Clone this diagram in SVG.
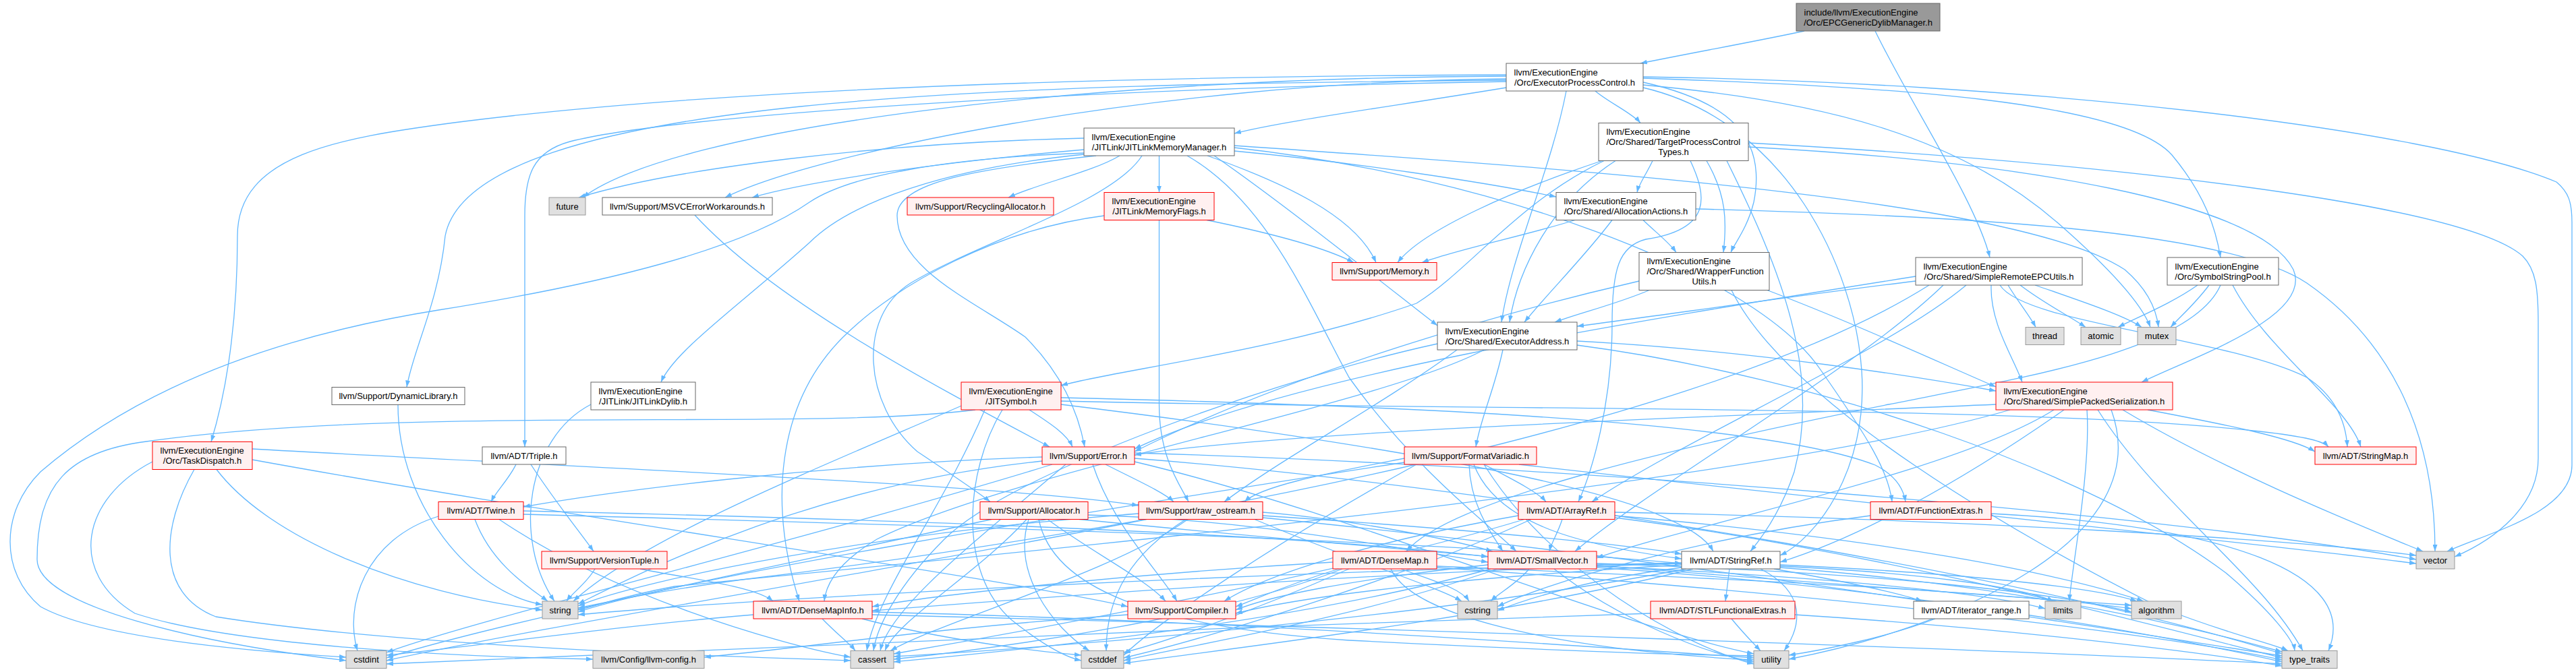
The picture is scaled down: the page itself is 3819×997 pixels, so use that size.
<svg xmlns="http://www.w3.org/2000/svg" width="3819" height="997" viewBox="0 0 3819 997">
<style>
.w{fill:#ffffff;stroke:#666666;stroke-width:1}
.r{fill:#fff0f0;stroke:#ff0000;stroke-width:1}
.g{fill:#e0e0e0;stroke:#999999;stroke-width:1}
.k{fill:#999999;stroke:#666666;stroke-width:1}
text{font-family:"Liberation Sans",Arial,Helvetica,sans-serif;font-size:13px;fill:#000000}
.c{text-anchor:middle}
#edges path{fill:none;stroke:#63b8ff;stroke-width:1.3;marker-end:url(#a)}
</style>
<defs>
<marker id="a" viewBox="0 0 10 7" refX="10" refY="3.5" markerWidth="10" markerHeight="7" markerUnits="userSpaceOnUse" orient="auto"><path d="M0,0L10,3.5L0,7z" fill="#63b8ff"/></marker>
</defs>
<rect x="0" y="0" width="3819" height="997" fill="#ffffff"/>
<g id="edges">
<path d="M2675,46 C2600,62 2500,80 2432,94"/>
<path d="M2780,46 C2830,150 2930,300 2950,382"/>
<path d="M2233,130 C2050,160 1900,180 1830,198"/>
<path d="M2365,135 C2385,152 2420,168 2432,182.5"/>
<path d="M2233,113 C1600,115 1000,190 864,293"/>
<path d="M2233,117 C1700,122 1200,230 1075,293"/>
<path d="M2233,119 C1500,125 700,140 660,350 C650,450 612,520 603,574.5"/>
<path d="M2233,111 C1500,114 1000,140 673,182 C500,205 352,230 352,350 C352,500 330,600 313,655.5"/>
<path d="M2233,121 C1600,132 1000,170 845,210 C790,225 778,260 778,320 L778,663"/>
<path d="M2322,135 C2300,250 2240,380 2226,478"/>
<path d="M2436,122 C2560,150 2620,200 2600,300 C2590,340 2572,360 2566,374.5"/>
<path d="M2436,116 C2800,128 3150,150 3220,230 C3270,290 3285,340 3292,382"/>
<path d="M2436,126 C2700,150 2900,200 3050,330 C3130,400 3175,450 3188,485.5"/>
<path d="M2436,114 C3000,122 3600,190 3790,270 C3808,285 3813,300 3813,330 L3813,690 C3813,760 3690,790 3628,818"/>
<path d="M2436,130 C2650,180 2750,400 2760,550 C2770,700 2690,800 2639,824"/>
<path d="M1607,205 C1300,212 1000,250 858,293"/>
<path d="M1607,222 C1400,240 1200,268 1115,293"/>
<path d="M1660,231 C1620,255 1540,272 1495,293"/>
<path d="M1718.5,231 L1718.5,285.5"/>
<path d="M1607,227 C1400,235 1260,260 1200,300 C1100,370 900,420 650,460 C400,500 200,580 60,700 C0,760 0,850 60,900 C150,950 400,968 513,975"/>
<path d="M1607,229 C1400,250 1260,300 1200,360 C1100,450 1000,520 980,567"/>
<path d="M1693,231 C1650,300 1450,360 1350,420 C1270,470 1280,600 1360,670 C1420,710 1450,730 1468,744.5"/>
<path d="M1625,231 C1450,250 1330,270 1330,320 C1330,400 1450,450 1520,500 C1580,560 1600,620 1608,663"/>
<path d="M1830,224 C2000,240 2200,270 2307,292"/>
<path d="M1800,231 C1900,300 2050,420 2131,483"/>
<path d="M1790,231 C1900,270 2010,320 2040,389.5"/>
<path d="M1760,231 C1880,300 1940,450 2000,560 C2100,700 2210,780 2248,818"/>
<path d="M1830,219 C2200,260 2600,400 2700,550 C2770,650 2800,700 2805,744.5"/>
<path d="M1830,216 C2400,255 3000,300 3150,400 C3185,430 3197,460 3200,485.5"/>
<path d="M2450,238.5 C2440,260 2430,272 2427,285.5"/>
<path d="M2375,238.5 C2250,280 2110,340 2072,389.5"/>
<path d="M2378,238.5 C2250,300 2180,400 2100,450 C1900,520 1650,550 1573,572"/>
<path d="M2395,238.5 C2300,300 2250,400 2238,478"/>
<path d="M2506,238.5 C2530,290 2540,340 2440,355 C2400,365 2390,400 2390,480 C2390,600 2360,700 2340,744.5"/>
<path d="M2530,238.5 C2560,290 2560,330 2555,374.5"/>
<path d="M2592,218 C3000,240 3350,300 3400,400 C3430,470 3250,530 3175,567"/>
<path d="M2560,238.5 C2640,400 2700,550 2660,700 C2640,760 2610,800 2595,818"/>
<path d="M2592,212 C3100,240 3650,300 3740,380 C3760,400 3763,430 3763,480 L3763,680 C3763,750 3700,800 3639,826"/>
<path d="M2335,326.5 C2260,350 2160,370 2108,389.5"/>
<path d="M2390,326.5 C2350,380 2290,440 2260,478"/>
<path d="M2436,326.5 C2455,345 2475,360 2485,374.5"/>
<path d="M2514,310 C2900,320 3300,340 3420,420 C3550,510 3610,650 3610,818"/>
<path d="M1789,326.5 C1880,345 1960,365 2007,389.5"/>
<path d="M1637,320 C1480,340 1330,420 1250,500 C1150,600 1140,750 1185,892"/>
<path d="M1718.5,326.5 L1718.5,600 C1718.5,680 1750,720 1762,744.5"/>
<path d="M2840,417 C2650,440 2450,470 2338,484"/>
<path d="M2977,423 C2990,445 3010,470 3018,485.5"/>
<path d="M2995,423 C3030,450 3070,470 3092,485.5"/>
<path d="M3017,423 C3080,445 3150,468 3175,485.5"/>
<path d="M2952,423 C2950,480 2985,530 2998,567"/>
<path d="M2965,423 C3000,480 3300,500 3420,560 C3465,590 3478,630 3480,663"/>
<path d="M2915,423 C2800,520 2500,650 2360,744.5"/>
<path d="M2881,423 C2750,550 2450,720 2335,818"/>
<path d="M2840,410 C2400,480 1900,560 1682,666"/>
<path d="M2860,423 C2500,650 1600,800 1100,860 C950,880 880,898 857,902"/>
<path d="M3258,423 C3220,450 3170,470 3140,485.5"/>
<path d="M3275,423 C3255,450 3232,470 3218,485.5"/>
<path d="M3310,423 C3360,520 3480,600 3500,663"/>
<path d="M3292,423 C3250,520 3000,560 2800,600 C2500,660 2150,740 2085,818"/>
<path d="M2445,430.5 C2400,450 2340,465 2305,478"/>
<path d="M2620,430.5 C2750,480 2880,540 2959,574"/>
<path d="M2430,417 C2200,470 1900,560 1682,670"/>
<path d="M2567,430.5 C2650,600 3000,800 3200,900 C3300,940 3370,955 3392,965.5"/>
<path d="M2228,519 C2215,580 2195,620 2188,663"/>
<path d="M2338,506 C2600,520 2850,560 2959,580"/>
<path d="M2200,519 C2050,600 1500,700 1300,800 C1250,830 1225,860 1222,892"/>
<path d="M2160,519 C2050,600 1900,680 1815,744.5"/>
<path d="M2131,510 C1900,560 1500,700 1400,800 C1330,870 1300,930 1295,965.5"/>
<path d="M2338,512 C2700,560 3100,700 3300,850 C3370,910 3400,950 3402,965.5"/>
<path d="M1526,608 C1560,630 1582,645 1590,663"/>
<path d="M1486,608 C1430,700 1420,850 1500,920 C1550,960 1580,975 1603,980"/>
<path d="M1446,608 C1200,640 600,600 217,655 C100,670 55,720 55,830 C55,900 300,955 513,980"/>
<path d="M1460,608 C1400,750 1300,880 1285,965.5"/>
<path d="M1430,600 C1200,700 950,800 850,892"/>
<path d="M1573,590 C2000,600 2600,620 2780,690 C2810,705 2822,725 2825,744.5"/>
<path d="M1573,595 C2200,610 3000,600 3350,640 C3420,648 3445,655 3452,663"/>
<path d="M1573,600 C1900,640 2300,700 2450,760 C2510,785 2530,800 2540,818"/>
<path d="M3184,608 C3300,630 3400,650 3432,670"/>
<path d="M3147,608 C3300,700 3500,780 3592,818"/>
<path d="M3094,608 C3100,700 3070,850 3068,892"/>
<path d="M3110,608 C3200,750 3350,850 3414,965.5"/>
<path d="M2959,600 C2500,620 1900,640 1682,675"/>
<path d="M3045,608 C2900,700 2500,780 2367,828"/>
<path d="M3060,608 C2900,720 2750,800 2639,834"/>
<path d="M2980,608 C2600,720 1500,820 1000,870 C920,885 880,900 857,905"/>
<path d="M3130,608 C3200,800 2900,930 2652,978"/>
<path d="M226,685 C120,740 100,850 200,910 C350,960 700,975 879,978"/>
<path d="M288,696.5 C240,780 230,880 320,915 C600,960 1100,975 1261,980"/>
<path d="M321,696.5 C400,800 600,880 804,905"/>
<path d="M374,666 C800,690 1500,720 1688,750"/>
<path d="M374,682 C800,760 1500,860 1672,900"/>
<path d="M765,689 C755,710 735,730 728,744.5"/>
<path d="M787,689 C820,740 860,790 880,818"/>
<path d="M1545,678 C1200,690 900,730 776,752"/>
<path d="M1639,689 C1680,710 1725,730 1740,744.5"/>
<path d="M1620,689 C1650,780 1720,850 1745,892"/>
<path d="M1545,684 C1200,720 950,850 857,896"/>
<path d="M1580,689 C1450,800 1320,900 1305,965.5"/>
<path d="M1560,689 C1200,800 700,920 573,968"/>
<path d="M1682,680 C2200,720 3000,850 3383,970"/>
<path d="M1682,685 C2000,760 2400,930 2600,970"/>
<path d="M1682,672 C2300,690 3200,760 3582,830"/>
<path d="M2200,689 C2240,710 2280,730 2292,744.5"/>
<path d="M2178,689 C2180,750 2210,790 2228,818"/>
<path d="M2185,689 C2220,780 2350,810 2493,829"/>
<path d="M2082,680 C1980,700 1870,720 1845,744.5"/>
<path d="M2252,689 C2700,740 3300,800 3582,836"/>
<path d="M2100,689 C1900,800 1720,920 1666,972"/>
<path d="M2082,686 C1600,760 1000,860 857,908"/>
<path d="M2200,689 C2300,850 2500,960 2600,985"/>
<path d="M704,770.5 C730,840 790,875 812,892"/>
<path d="M650,766 C540,800 510,900 530,965.5"/>
<path d="M776,758 C1300,770 1900,790 2206,826"/>
<path d="M776,763 C1400,780 2100,800 2493,836"/>
<path d="M740,770.5 C900,880 1150,955 1261,975"/>
<path d="M1522,770.5 C1450,850 1330,920 1312,965.5"/>
<path d="M1525,770.5 C1500,850 1560,930 1615,965.5"/>
<path d="M1553,770.5 C1620,820 1700,860 1728,892"/>
<path d="M1613,764 C1850,770 2050,810 2206,834"/>
<path d="M1470,770.5 C1200,830 750,920 573,976"/>
<path d="M1540,770.5 C1560,870 1700,930 2000,950 C2300,965 2500,972 2600,973"/>
<path d="M1600,770.5 C2200,830 2900,880 3160,898"/>
<path d="M1761,770.5 C1650,850 1400,920 1320,965.5"/>
<path d="M1758,770.5 C1680,820 1640,880 1640,965.5"/>
<path d="M1872,760 C2000,770 2150,800 2213,818"/>
<path d="M1872,765 C2100,780 2400,805 2493,822"/>
<path d="M1688,762 C1300,790 950,860 857,899"/>
<path d="M1700,770.5 C1300,850 800,930 573,980"/>
<path d="M1860,770.5 C2000,830 2130,870 2167,892"/>
<path d="M1872,768 C2500,830 3100,930 3383,973"/>
<path d="M2316,770.5 C2310,790 2300,805 2297,818"/>
<path d="M2251,765 C2050,800 1880,850 1815,892"/>
<path d="M2260,770.5 C2000,850 1500,940 1325,970"/>
<path d="M2270,770.5 C2100,850 1800,945 1666,976"/>
<path d="M2394,765 C2800,800 3050,850 3178,892"/>
<path d="M2394,768 C2800,820 3200,930 3383,976"/>
<path d="M2394,760 C2900,770 3400,800 3582,824"/>
<path d="M2952,762 C3300,780 3500,850 3452,965.5"/>
<path d="M2773,765 C2500,800 2280,870 2220,900"/>
<path d="M882,844 C870,865 848,880 840,892"/>
<path d="M949,844 C1030,860 1120,870 1146,892"/>
<path d="M2077,844 C2120,860 2165,872 2178,892"/>
<path d="M2062,844 C2100,930 2400,970 2600,979"/>
<path d="M1976,834 C1700,850 1400,880 1293,900"/>
<path d="M1985,844 C1900,870 1860,890 1832,900"/>
<path d="M1990,844 C1800,920 1450,965 1325,978"/>
<path d="M2000,844 C1850,910 1720,955 1666,968"/>
<path d="M2130,840 C2600,860 3000,880 3160,903"/>
<path d="M2130,842 C2700,880 3200,940 3383,979"/>
<path d="M2267,844 C2250,865 2222,880 2210,892"/>
<path d="M2304,844 C2400,920 2530,970 2600,982"/>
<path d="M2206,838 C2000,860 1880,885 1832,905"/>
<path d="M2210,844 C1900,930 1450,970 1325,982"/>
<path d="M2220,844 C2000,920 1750,960 1666,980"/>
<path d="M2367,836 C2800,850 3050,880 3160,908"/>
<path d="M2367,840 C2700,855 2950,880 3032,903"/>
<path d="M2367,842 C2800,870 3200,940 3383,982"/>
<path d="M2564,844 L2558,892"/>
<path d="M2610,844 C2680,880 2670,930 2645,965.5"/>
<path d="M2630,844 C2720,860 2810,878 2850,892"/>
<path d="M2493,836 C2000,850 1500,890 1293,906"/>
<path d="M2493,838 C2200,855 1950,880 1832,910"/>
<path d="M2500,844 C2100,920 1500,965 1325,974"/>
<path d="M2510,844 C2200,920 1800,965 1666,984"/>
<path d="M2493,842 C2350,860 2260,890 2220,906"/>
<path d="M2639,840 C2850,850 2990,870 3045,892"/>
<path d="M2639,838 C2900,850 3100,870 3168,892"/>
<path d="M2493,835 C1800,850 1100,890 857,912"/>
<path d="M2639,842 C3000,870 3250,930 3383,967"/>
<path d="M1219,918 C1240,940 1260,955 1268,965.5"/>
<path d="M1278,918 C1400,950 1550,968 1603,972"/>
<path d="M1117,912 C900,930 700,960 573,972"/>
<path d="M1293,908 C1800,920 2300,955 2600,976"/>
<path d="M1293,912 C2000,930 3000,965 3383,985"/>
<path d="M1672,912 C1400,930 1200,960 1044,975"/>
<path d="M2567,918 C2585,940 2600,955 2610,965.5"/>
<path d="M2661,912 C2950,930 3250,965 3383,988"/>
<path d="M2447,910 C1800,930 1000,965 573,985"/>
<path d="M2869,918 C2800,945 2700,965 2652,972"/>
<path d="M876,600 C780,650 760,800 822,892"/>
<path d="M590,600.5 C590,750 700,880 804,897"/>
<path d="M1030,319 C1150,450 1400,580 1556,663"/>
</g>
<g id="n-root"><rect class="k" x="2663" y="5" width="213" height="41"/><text x="2674.5" y="22.5">include/llvm/ExecutionEngine</text><text class="c" x="2769.5" y="37.5">/Orc/EPCGenericDylibManager.h</text></g>
<g id="n-epc"><rect class="w" x="2233" y="94" width="203" height="41"/><text x="2244.5" y="111.5">llvm/ExecutionEngine</text><text class="c" x="2334.5" y="126.5">/Orc/ExecutorProcessControl.h</text></g>
<g id="n-jmm"><rect class="w" x="1607" y="190" width="223" height="41"/><text x="1618.5" y="207.5">llvm/ExecutionEngine</text><text class="c" x="1718.5" y="222.5">/JITLink/JITLinkMemoryManager.h</text></g>
<g id="n-tpc"><rect class="w" x="2370" y="182.5" width="222" height="56"/><text x="2381.5" y="200">llvm/ExecutionEngine</text><text x="2381.5" y="215">/Orc/Shared/TargetProcessControl</text><text class="c" x="2481" y="230">Types.h</text></g>
<g id="n-future"><rect class="g" x="814" y="293" width="54" height="26"/><text class="c" x="841" y="310.5">future</text></g>
<g id="n-msvc"><rect class="w" x="893" y="293" width="252" height="26"/><text class="c" x="1019" y="310.5">llvm/Support/MSVCErrorWorkarounds.h</text></g>
<g id="n-recyc"><rect class="r" x="1345" y="293" width="217" height="26"/><text class="c" x="1453.5" y="310.5">llvm/Support/RecyclingAllocator.h</text></g>
<g id="n-mflags"><rect class="r" x="1637" y="285.5" width="163" height="41"/><text x="1648.5" y="303">llvm/ExecutionEngine</text><text class="c" x="1718.5" y="318">/JITLink/MemoryFlags.h</text></g>
<g id="n-alloca"><rect class="w" x="2307" y="285.5" width="207" height="41"/><text x="2318.5" y="303">llvm/ExecutionEngine</text><text class="c" x="2410.5" y="318">/Orc/Shared/AllocationActions.h</text></g>
<g id="n-memory"><rect class="r" x="1975" y="389.5" width="155" height="26"/><text class="c" x="2052.5" y="407">llvm/Support/Memory.h</text></g>
<g id="n-wfu"><rect class="w" x="2430" y="374.5" width="193" height="56"/><text x="2441.5" y="392">llvm/ExecutionEngine</text><text x="2441.5" y="407">/Orc/Shared/WrapperFunction</text><text class="c" x="2526.5" y="422">Utils.h</text></g>
<g id="n-sreu"><rect class="w" x="2840" y="382" width="247" height="41"/><text x="2851.5" y="399.5">llvm/ExecutionEngine</text><text class="c" x="2963.5" y="414.5">/Orc/Shared/SimpleRemoteEPCUtils.h</text></g>
<g id="n-ssp"><rect class="w" x="3213" y="382" width="165" height="41"/><text x="3224.5" y="399.5">llvm/ExecutionEngine</text><text class="c" x="3295.5" y="414.5">/Orc/SymbolStringPool.h</text></g>
<g id="n-thread"><rect class="g" x="3003" y="485.5" width="57" height="26"/><text class="c" x="3031.5" y="503">thread</text></g>
<g id="n-atomic"><rect class="g" x="3085" y="485.5" width="59" height="26"/><text class="c" x="3114.5" y="503">atomic</text></g>
<g id="n-mutex"><rect class="g" x="3169" y="485.5" width="57" height="26"/><text class="c" x="3197.5" y="503">mutex</text></g>
<g id="n-eaddr"><rect class="w" x="2131" y="478" width="207" height="41"/><text x="2142.5" y="495.5">llvm/ExecutionEngine</text><text class="c" x="2234.5" y="510.5">/Orc/Shared/ExecutorAddress.h</text></g>
<g id="n-dynlib"><rect class="w" x="492" y="574.5" width="197" height="26"/><text class="c" x="590.5" y="592">llvm/Support/DynamicLibrary.h</text></g>
<g id="n-jldylib"><rect class="w" x="876" y="567" width="155" height="41"/><text x="887.5" y="584.5">llvm/ExecutionEngine</text><text class="c" x="953.5" y="599.5">/JITLink/JITLinkDylib.h</text></g>
<g id="n-jitsym"><rect class="r" x="1425" y="567" width="148" height="41"/><text x="1436.5" y="584.5">llvm/ExecutionEngine</text><text class="c" x="1499" y="599.5">/JITSymbol.h</text></g>
<g id="n-sps"><rect class="r" x="2959" y="567" width="262" height="41"/><text x="2970.5" y="584.5">llvm/ExecutionEngine</text><text class="c" x="3090" y="599.5">/Orc/Shared/SimplePackedSerialization.h</text></g>
<g id="n-taskd"><rect class="r" x="226" y="655.5" width="148" height="41"/><text x="237.5" y="673">llvm/ExecutionEngine</text><text class="c" x="300" y="688">/Orc/TaskDispatch.h</text></g>
<g id="n-triple"><rect class="w" x="715" y="663" width="124" height="26"/><text class="c" x="777" y="680.5">llvm/ADT/Triple.h</text></g>
<g id="n-error"><rect class="r" x="1545" y="663" width="137" height="26"/><text class="c" x="1613.5" y="680.5">llvm/Support/Error.h</text></g>
<g id="n-fmtv"><rect class="r" x="2082" y="663" width="196" height="26"/><text class="c" x="2180" y="680.5">llvm/Support/FormatVariadic.h</text></g>
<g id="n-strmap"><rect class="r" x="3432" y="663" width="150" height="26"/><text class="c" x="3507" y="680.5">llvm/ADT/StringMap.h</text></g>
<g id="n-twine"><rect class="r" x="650" y="744.5" width="126" height="26"/><text class="c" x="713" y="762">llvm/ADT/Twine.h</text></g>
<g id="n-allocator"><rect class="r" x="1453" y="744.5" width="160" height="26"/><text class="c" x="1533" y="762">llvm/Support/Allocator.h</text></g>
<g id="n-rawos"><rect class="r" x="1688" y="744.5" width="184" height="26"/><text class="c" x="1780" y="762">llvm/Support/raw_ostream.h</text></g>
<g id="n-arrayref"><rect class="r" x="2251" y="744.5" width="143" height="26"/><text class="c" x="2322.5" y="762">llvm/ADT/ArrayRef.h</text></g>
<g id="n-funcext"><rect class="r" x="2773" y="744.5" width="179" height="26"/><text class="c" x="2862.5" y="762">llvm/ADT/FunctionExtras.h</text></g>
<g id="n-vtuple"><rect class="r" x="803" y="818" width="186" height="26"/><text class="c" x="896" y="835.5">llvm/Support/VersionTuple.h</text></g>
<g id="n-densemap"><rect class="r" x="1976" y="818" width="154" height="26"/><text class="c" x="2053" y="835.5">llvm/ADT/DenseMap.h</text></g>
<g id="n-smallvec"><rect class="r" x="2206" y="818" width="161" height="26"/><text class="c" x="2286.5" y="835.5">llvm/ADT/SmallVector.h</text></g>
<g id="n-strref"><rect class="w" x="2493" y="818" width="146" height="26"/><text class="c" x="2566" y="835.5">llvm/ADT/StringRef.h</text></g>
<g id="n-vector"><rect class="g" x="3582" y="818" width="57" height="26"/><text class="c" x="3610.5" y="835.5">vector</text></g>
<g id="n-string"><rect class="g" x="804" y="892" width="53" height="26"/><text class="c" x="830.5" y="909.5">string</text></g>
<g id="n-dmi"><rect class="r" x="1117" y="892" width="176" height="26"/><text class="c" x="1205" y="909.5">llvm/ADT/DenseMapInfo.h</text></g>
<g id="n-compiler"><rect class="r" x="1672" y="892" width="160" height="26"/><text class="c" x="1752" y="909.5">llvm/Support/Compiler.h</text></g>
<g id="n-cstring"><rect class="g" x="2161" y="892" width="59" height="26"/><text class="c" x="2190.5" y="909.5">cstring</text></g>
<g id="n-stlfe"><rect class="r" x="2447" y="892" width="214" height="26"/><text class="c" x="2554" y="909.5">llvm/ADT/STLFunctionalExtras.h</text></g>
<g id="n-iterrange"><rect class="w" x="2837" y="892" width="171" height="26"/><text class="c" x="2922.5" y="909.5">llvm/ADT/iterator_range.h</text></g>
<g id="n-limits"><rect class="g" x="3032" y="892" width="53" height="26"/><text class="c" x="3058.5" y="909.5">limits</text></g>
<g id="n-algorithm"><rect class="g" x="3160" y="892" width="74" height="26"/><text class="c" x="3197" y="909.5">algorithm</text></g>
<g id="n-cstdint"><rect class="g" x="513" y="965.5" width="60" height="26"/><text class="c" x="543" y="983">cstdint</text></g>
<g id="n-llvmcfg"><rect class="g" x="879" y="965.5" width="165" height="26"/><text class="c" x="961.5" y="983">llvm/Config/llvm-config.h</text></g>
<g id="n-cassert"><rect class="g" x="1261" y="965.5" width="64" height="26"/><text class="c" x="1293" y="983">cassert</text></g>
<g id="n-cstddef"><rect class="g" x="1603" y="965.5" width="63" height="26"/><text class="c" x="1634.5" y="983">cstddef</text></g>
<g id="n-utility"><rect class="g" x="2600" y="965.5" width="52" height="26"/><text class="c" x="2626" y="983">utility</text></g>
<g id="n-typetraits"><rect class="g" x="3383" y="965.5" width="82" height="26"/><text class="c" x="3424" y="983">type_traits</text></g>
</svg>
